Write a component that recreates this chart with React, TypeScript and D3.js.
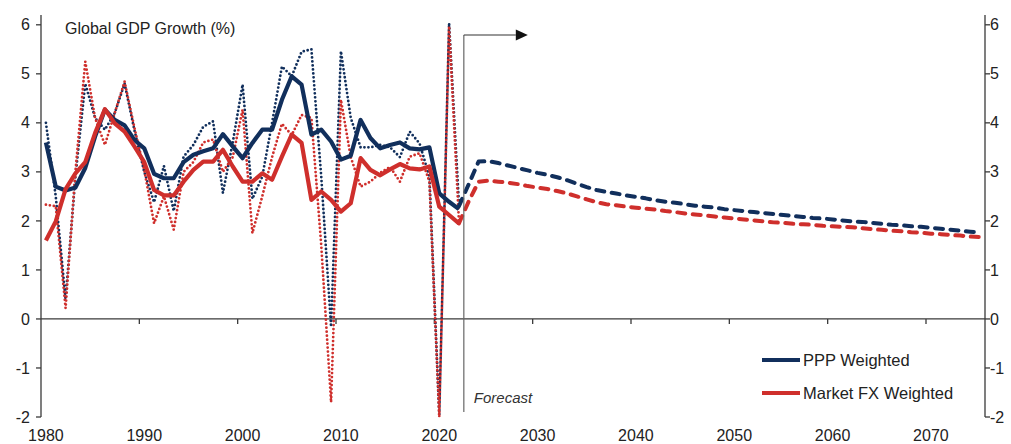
import React from "react";
import * as d3 from "d3";

// ---- Data ----
const histStart = 1980;
const histEnd = 2022;
const fcStart = 2022;
const fcEnd = 2075;

// Solid: trend series
const pppTrend = [3.6, 2.7, 2.62, 2.68, 3.08, 3.72, 4.27, 4.06, 3.95, 3.65, 3.48, 2.96, 2.87, 2.87, 3.2, 3.35, 3.42, 3.48, 3.77, 3.52, 3.28, 3.59, 3.86, 3.86, 4.47, 4.95, 4.78, 3.76, 3.86, 3.62, 3.25, 3.33, 4.06, 3.69, 3.48, 3.55, 3.6, 3.48, 3.46, 3.5, 2.56, 2.39, 2.24];
const fxTrend = [1.6, 1.99, 2.65, 2.97, 3.2, 3.79, 4.28, 3.99, 3.82, 3.52, 3.2, 2.63, 2.52, 2.52, 2.8, 3.04, 3.21, 3.21, 3.45, 3.11, 2.8, 2.8, 2.97, 2.84, 3.31, 3.76, 3.59, 2.43, 2.6, 2.43, 2.19, 2.36, 3.28, 3.04, 2.93, 3.05, 3.16, 3.07, 3.05, 3.11, 2.29, 2.12, 1.95];

// Dotted: annual actual growth
const pppActual = [4.0, 2.5, 0.4, 2.9, 4.8, 4.1, 3.86, 4.2, 4.8, 3.85, 3.0, 2.38, 3.12, 2.2, 3.31, 3.55, 3.92, 4.03, 2.57, 3.6, 4.78, 2.45, 2.9, 4.0, 5.15, 4.95, 5.45, 5.5, 2.9, -0.16, 5.46, 4.1, 3.5, 3.5, 3.55, 3.5, 3.3, 3.82, 3.58, 2.9, -1.95, 6.03, 2.35];
const fxActual = [2.33, 2.3, 0.22, 3.0, 5.25, 4.1, 3.55, 4.2, 4.84, 3.9, 3.04, 1.95, 2.5, 1.82, 3.0, 3.2, 3.6, 3.66, 3.0, 3.3, 4.27, 1.75, 2.5, 3.3, 3.98, 3.75, 4.16, 4.1, 1.5, -1.7, 4.47, 3.3, 2.7, 2.8, 2.98, 3.1, 2.8, 3.31, 3.38, 2.8, -2.0, 5.97, 2.0];

// Dashed: forecasts 2022-2075
const pppForecast = [2.3, 2.75, 3.21, 3.22, 3.18, 3.13, 3.08, 3.03, 2.98, 2.94, 2.89, 2.83, 2.76, 2.69, 2.63, 2.59, 2.56, 2.52, 2.49, 2.46, 2.42, 2.39, 2.37, 2.34, 2.31, 2.29, 2.27, 2.24, 2.22, 2.2, 2.18, 2.16, 2.14, 2.12, 2.1, 2.08, 2.06, 2.05, 2.03, 2.01, 1.99, 1.98, 1.96, 1.94, 1.92, 1.91, 1.89, 1.88, 1.86, 1.84, 1.82, 1.8, 1.78, 1.76];
const fxForecast = [1.95, 2.4, 2.8, 2.82, 2.8, 2.78, 2.75, 2.71, 2.68, 2.65, 2.61, 2.56, 2.5, 2.44, 2.38, 2.34, 2.32, 2.29, 2.27, 2.25, 2.23, 2.2, 2.18, 2.15, 2.13, 2.11, 2.09, 2.07, 2.05, 2.03, 2.01, 1.99, 1.97, 1.96, 1.94, 1.93, 1.92, 1.9, 1.89, 1.88, 1.87, 1.85, 1.83, 1.82, 1.8, 1.79, 1.77, 1.76, 1.74, 1.73, 1.71, 1.7, 1.68, 1.67];

const xTickLabels = [1980, 1990, 2000, 2010, 2020, 2030, 2040, 2050, 2060, 2070];
const yTickValues = [-2, -1, 0, 1, 2, 3, 4, 5, 6];
const forecastStartYear = 2023;

const title = "Global GDP Growth (%)";
const legendItems = [
  { label: "PPP Weighted", color: "#112f5c" },
  { label: "Market FX Weighted", color: "#cf2f2c" },
];

const NAVY = "#112f5c";
const RED = "#cf2f2c";
const AXIS = "#3a3a3a";
const FONT = "'Liberation Sans', Arial, Helvetica, sans-serif";

export default function App() {
  const W = 1011;
  const H = 444;
  const left = 41;
  const right = 985;
  const top = 15;
  const bottom = 417;

  const allYears = d3.range(histStart, fcEnd + 1);
  const x = d3.scaleBand<number>().domain(allYears).range([left, right]).padding(0);
  const bw = x.bandwidth();
  const cx = (yr: number) => (x(yr) as number) + bw / 2;
  const y = d3.scaleLinear().domain([-2, 6.2]).range([bottom, top]);

  const histYears = d3.range(histStart, histEnd + 1);
  const fcYears = d3.range(fcStart, fcEnd + 1);

  const line = d3
    .line<[number, number]>()
    .x((d) => cx(d[0]))
    .y((d) => y(d[1]));

  const mk = (yrs: number[], vals: number[]) =>
    line(yrs.map((yr, i) => [yr, vals[i]] as [number, number])) || "";

  const y0 = y(0);
  const xf = x(forecastStartYear) as number;

  return (
    <svg
      width={W}
      height={H}
      style={{ position: "absolute", left: 0, top: 0, background: "#fff" }}
      fontFamily={FONT}
    >
      <rect x={0} y={0} width={W} height={H} fill="#fff" />

      {/* Left axis */}
      <line x1={left} x2={left} y1={top} y2={bottom} stroke={AXIS} strokeWidth={1.3} />
      {yTickValues.map((v) => (
        <g key={"l" + v}>
          <line x1={left - 5} x2={left} y1={y(v)} y2={y(v)} stroke={AXIS} strokeWidth={1.3} />
          <text x={left - 11} y={y(v)} dy="0.35em" textAnchor="end" fontSize={16} fill="#222">
            {v}
          </text>
        </g>
      ))}

      {/* Right axis */}
      <line x1={right} x2={right} y1={top} y2={bottom} stroke={AXIS} strokeWidth={1.3} />
      {yTickValues.map((v) => (
        <g key={"r" + v}>
          <line x1={right} x2={right + 5} y1={y(v)} y2={y(v)} stroke={AXIS} strokeWidth={1.3} />
          <text x={right + 5} y={y(v)} dy="0.35em" textAnchor="start" fontSize={16} fill="#222">
            {v}
          </text>
        </g>
      ))}

      {/* Zero line / x axis */}
      <line x1={left} x2={right} y1={y0} y2={y0} stroke={AXIS} strokeWidth={1.3} />
      {xTickLabels.map((yr) => (
        <g key={"x" + yr}>
          {yr !== histStart && (
            <line x1={x(yr) as number} x2={x(yr) as number} y1={y0} y2={y0 + 5} stroke={AXIS} strokeWidth={1.3} />
          )}
          <text x={cx(yr)} y={441} textAnchor="middle" fontSize={16} fill="#222">
            {yr}
          </text>
        </g>
      ))}

      {/* Title */}
      <text x={65} y={28} dy="0.35em" fontSize={16} fill="#222">
        {title}
      </text>

      {/* Dotted annual series */}
      <path d={mk(histYears, pppActual)} fill="none" stroke={NAVY} strokeWidth={2.8} strokeDasharray="0 4" strokeLinecap="round" />
      <path d={mk(histYears, fxActual)} fill="none" stroke={RED} strokeWidth={2.8} strokeDasharray="0 4" strokeLinecap="round" />

      {/* Solid trend series */}
      <path d={mk(histYears, pppTrend)} fill="none" stroke={NAVY} strokeWidth={4.2} strokeLinejoin="round" />
      <path d={mk(histYears, fxTrend)} fill="none" stroke={RED} strokeWidth={4.2} strokeLinejoin="round" />

      {/* Dashed forecasts */}
      <path d={mk(fcYears, pppForecast)} fill="none" stroke={NAVY} strokeWidth={4} strokeDasharray="8 7.5" strokeLinecap="round" strokeLinejoin="round" />
      <path d={mk(fcYears, fxForecast)} fill="none" stroke={RED} strokeWidth={4} strokeDasharray="8 7.5" strokeLinecap="round" strokeLinejoin="round" />

      {/* Forecast marker */}
      <line x1={xf} x2={xf} y1={35} y2={412} stroke="#666" strokeWidth={1.2} />
      <line x1={xf} x2={xf + 52} y1={35} y2={35} stroke="#333" strokeWidth={1.2} />
      <path d={`M${xf + 52},${29.5} L${xf + 64},${35} L${xf + 52},${40.5} Z`} fill="#111" />
      <text x={xf + 10} y={398} dy="0.35em" fontSize={15} fontStyle="italic" fill="#333">
        Forecast
      </text>

      {/* Legend */}
      {legendItems.map((it, i) => (
        <g key={it.label}>
          <line x1={762} x2={800} y1={360 + i * 33} y2={360 + i * 33} stroke={it.color} strokeWidth={4} />
          <text x={803} y={360 + i * 33} dy="0.35em" fontSize={16.5} fill="#222">
            {it.label}
          </text>
        </g>
      ))}
    </svg>
  );
}
